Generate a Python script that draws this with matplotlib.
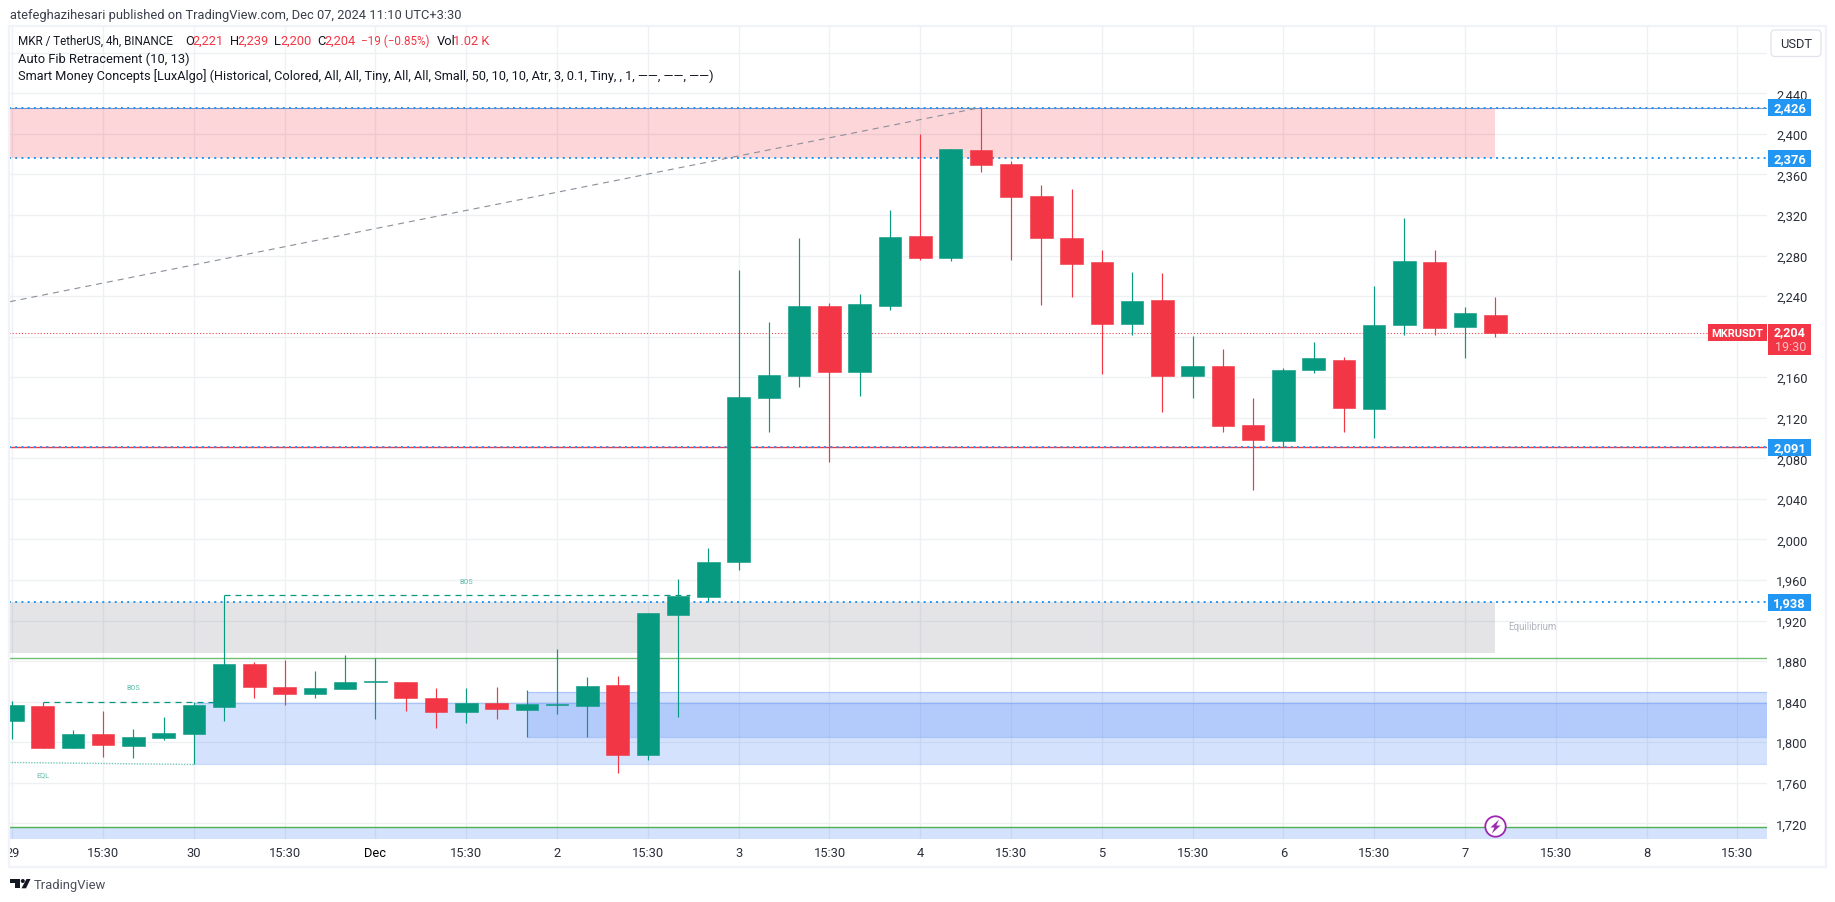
#!/usr/bin/env python3
"""MKR / TetherUS 4h candles with Smart Money Concepts zones, TradingView look."""

import matplotlib
matplotlib.use('Agg')
import matplotlib.pyplot as plt
from matplotlib.patches import Rectangle, FancyBboxPatch, Polygon, Circle
from matplotlib.transforms import Affine2D, Bbox, IdentityTransform, blended_transform_factory

# ── Data ───────────────────────────────────────────────────────────────────────
opens = [1821, 1836, 1794, 1808, 1796, 1804, 1808, 1835, 1877, 1854,
         1848, 1852, 1859, 1859, 1844, 1830, 1839, 1832, 1837, 1836,
         1856, 1787, 1925, 1943, 1978, 2139, 2161, 2230, 2165, 2230,
         2299, 2278, 2384, 2370, 2339, 2297, 2274, 2212, 2236, 2161,
         2171, 2113, 2097, 2167, 2177, 2129, 2211, 2274, 2210, 2221]
highs = [1841, 1840, 1812, 1831, 1813, 1825, 1840, 1945, 1879, 1881,
         1870, 1886, 1883, 1859, 1853, 1853, 1854, 1851, 1892, 1864,
         1865, 1927, 1961, 1992, 2266, 2214, 2297, 2233, 2242, 2325,
         2400, 2385, 2426, 2373, 2350, 2346, 2285, 2264, 2263, 2201,
         2188, 2139, 2169, 2195, 2180, 2250, 2317, 2285, 2229, 2239]
lows = [1803, 1794, 1794, 1785, 1784, 1802, 1778, 1821, 1844, 1837,
        1844, 1852, 1823, 1831, 1814, 1819, 1823, 1805, 1828, 1805,
        1770, 1782, 1825, 1938, 1970, 2106, 2150, 2076, 2141, 2226,
        2276, 2275, 2362, 2276, 2231, 2239, 2163, 2202, 2126, 2139,
        2106, 2049, 2091, 2164, 2106, 2100, 2202, 2202, 2179, 2200]
closes = [1837, 1794, 1808, 1797, 1805, 1809, 1837, 1877, 1854, 1848,
          1853, 1859, 1860, 1844, 1830, 1839, 1833, 1838, 1838, 1855,
          1787, 1927, 1944, 1978, 2140, 2162, 2230, 2165, 2232, 2298,
          2278, 2385, 2369, 2338, 2297, 2272, 2212, 2235, 2161, 2171,
          2112, 2098, 2167, 2179, 2130, 2211, 2275, 2209, 2223, 2204]

x_ticks = list(range(0, 58, 3))
x_labels = ['29', '15:30', '30', '15:30', 'Dec', '15:30', '2', '15:30', '3', '15:30',
            '4', '15:30', '5', '15:30', '6', '15:30', '7', '15:30', '8', '15:30']
y_grid = [1720, 1760, 1800, 1840, 1880, 1920, 1960, 2000, 2040, 2080, 2120,
          2160, 2200, 2240, 2280, 2320, 2360, 2400, 2440, 2480]
# 2,200 sits behind the last-price tag, 2,480 behind the USDT button
y_labelled = [v for v in y_grid if v not in (2200, 2480)]

fib_levels = [2426, 2376, 1938, 2091]
last_price = 2204
green_levels = [1883.5, 1716]
zone_red = (2376, 2426)
zone_gray = (1888, 1938)
zone_blue_low = (1778, 1838.5)
zone_blue_high = (1805, 1849.5)
zone_blue_floor = (1704.5, 1716)
bos_low = 1840
bos_high = 1945
eql_prices = (1780, 1778)
fib_line_x = (-1, 32)
fib_line_y = (2229, 2426)

# ── Look ───────────────────────────────────────────────────────────────────────
W, H = 1835, 903
UP = '#089981'
DOWN = '#f23645'
BLUE = '#2196f3'
ZONE_BLUE = '#2f72f5'
TEXT = '#131722'
FONT = 'Roboto'
FS = 9.3
X0, DX = 12.3, 30.265   # pixel of first bar, pixels per bar
L, R, T, B = 9, 1767, 27, 840

plt.rcParams['font.family'] = [FONT, 'DejaVu Sans']

fig = plt.figure(figsize=(W / 100, H / 100), dpi=100, facecolor='white')
ax = fig.add_axes([L / W, 1 - B / H, (R - L) / W, (B - T) / H])
ax.set_xlim((L - X0) / DX, (R - X0) / DX)
ax.set_ylim(1704.5, 2506.4)
xl, xr = ax.get_xlim()
px = Affine2D().scale(1, -1).translate(0, H)


def ftext(x, y, s, **kw):
    kw.setdefault('fontsize', FS)
    kw.setdefault('color', TEXT)
    kw.setdefault('va', 'center')
    return fig.text(x / W, 1 - y / H, s, **kw)


# ── Grid and axes ──────────────────────────────────────────────────────────────
for s in ax.spines.values():
    s.set_visible(False)
ax.set_axisbelow(True)
ax.set_xticks(x_ticks)
ax.set_xticklabels(x_labels, fontsize=FS, color='#2a2e39')
ax.set_yticks(y_grid)
ax.set_yticklabels([f'{v:,}' if v in y_labelled else '' for v in y_grid],
                   fontsize=FS, color='#2a2e39')
ax.yaxis.tick_right()
ax.tick_params(length=0)
ax.tick_params(axis='x', pad=5)
ax.tick_params(axis='y', pad=6.5)
ax.grid(True, color='#eef0f3', lw=1.0)
for lab in ax.get_xticklabels():
    if lab.get_text() == 'Dec':
        lab.set_color('#000000')
    if lab.get_text() == '29':
        lab.set_clip_box(Bbox([[L, 0], [W, H]]))
        lab.set_clip_on(True)

# ── Zones ──────────────────────────────────────────────────────────────────────
ax.axhspan(*zone_red, xmin=0, xmax=(49 - xl) / (xr - xl), color=DOWN, alpha=0.2, lw=0, zorder=1)
ax.axhspan(*zone_gray, xmin=0, xmax=(49 - xl) / (xr - xl), color='#787b86', alpha=0.2, lw=0, zorder=1)
for (lo, hi), start in ((zone_blue_low, 6), (zone_blue_high, 17), (zone_blue_floor, xl)):
    ax.add_patch(Rectangle((start, lo), xr - start, hi - lo, facecolor=ZONE_BLUE, alpha=0.2,
                           edgecolor='none', zorder=1))
    ax.hlines([lo, hi] if start != xl else [], start, xr, color=ZONE_BLUE, alpha=0.25, lw=0.9, zorder=1.1)

# ── Levels ─────────────────────────────────────────────────────────────────────
ax.axhline(2426, color='#5b7fc0', lw=0.8, alpha=0.8, zorder=1.2)
ax.axhline(2091, color=DOWN, lw=1.0, zorder=1.2)
for lev in green_levels:
    ax.axhline(lev, color='#4caf50', lw=1.0, alpha=0.8 if lev > 1800 else 1, zorder=1.2)
for lev in fib_levels:
    ax.axhline(lev, color=BLUE, lw=1.4, linestyle=(0, (1, 2.2)), zorder=1.3)
ax.axhline(last_price, color=DOWN, lw=0.75, linestyle=(0, (1, 2)), zorder=1.2)
ax.plot(fib_line_x, fib_line_y, color='#8c8f99', lw=0.8, linestyle=(0, (5.4, 4.5)), zorder=1.4)

# ── Structure labels ───────────────────────────────────────────────────────────
ax.hlines(bos_low, 1, 7, color=UP, lw=0.9, linestyle=(0, (4.8, 4)), zorder=1.5)
ax.hlines(bos_high, 7, 22.4, color=UP, lw=0.9, linestyle=(0, (4.8, 4)), zorder=1.5)
ax.plot([xl, 6], eql_prices, color=UP, alpha=0.55, lw=1.0, linestyle=(0, (1, 1)), zorder=1.5)
ftext(133.6, 689, 'BOS', fontsize=5.2, color='#5dbba9', ha='center')
ftext(466.4, 583, 'BOS', fontsize=5.2, color='#5dbba9', ha='center')
ftext(42.7, 776, 'EQL', fontsize=5.2, color='#5dbba9', ha='center')
ftext(1532, 627, 'Equilibrium', fontsize=7, color='#b2b5be', ha='center')

# ── Candles ────────────────────────────────────────────────────────────────────
idx = list(range(len(opens)))
cols = [UP if c >= o else DOWN for o, c in zip(opens, closes)]
ax.vlines(idx, lows, highs, colors=cols, lw=0.85, zorder=3)
ax.bar(idx, [abs(c - o) for o, c in zip(opens, closes)], bottom=[min(o, c) for o, c in zip(opens, closes)],
       width=0.745, color=cols, edgecolor=cols, lw=0.4, zorder=3.1)

# ── Price tags ─────────────────────────────────────────────────────────────────
tag = blended_transform_factory(IdentityTransform(), ax.transData)


def price_tag(x0, x1, top, bottom, color):
    ax.add_patch(Rectangle((x0, bottom), x1 - x0, top - bottom, transform=tag, facecolor=color,
                           edgecolor='none', clip_on=False, zorder=5))


for lev in fib_levels:
    price_tag(1768, 1811, lev + 8.4, lev - 8.4, BLUE)
    ax.text(1806, lev, f'{lev:,}', transform=tag, color='white', fontsize=FS, fontweight='bold',
            ha='right', va='center', clip_on=False, zorder=6)
price_tag(1768, 1811, last_price + 8, last_price - 22.2, DOWN)
price_tag(1708, 1766.7, last_price + 8, last_price - 8.3, DOWN)
ax.text(1806, last_price + 0.8, f'{last_price:,}', transform=tag, color='white', fontsize=FS - 0.3, fontweight='bold',
        ha='right', va='center', clip_on=False, zorder=6)
ax.text(1806, last_price - 13.6, '19:30', transform=tag, color='#fbc2c7', fontsize=FS - 0.3,
        ha='right', va='center', clip_on=False, zorder=6)
ax.text(1737.5, last_price, 'MKRUSDT', transform=tag, color='white', fontsize=7.9, fontweight='bold',
        ha='center', va='center', clip_on=False, zorder=6)

# ── Frame, header, button ──────────────────────────────────────────────────────
fig.add_artist(Rectangle((8.5, 26.5), 1817, 841, transform=px, fill=False, edgecolor='#f0f3fa', lw=1.6))
fig.add_artist(FancyBboxPatch((1773, 33), 46, 22.5, boxstyle='round,pad=2,rounding_size=4', transform=px,
                              facecolor='white', edgecolor='#e0e3eb', lw=0.9))
ftext(1796, 44, 'USDT', ha='center', color='#2a2e39')
ftext(10, 15, 'atefeghazihesari published on TradingView.com, Dec 07, 2024 11:10 UTC+3:30', color='#3a3e4a')

ftext(18, 41.7, 'MKR / TetherUS, 4h, BINANCE', fontsize=8.4)
for x, s, c, fs in ((185, 'O', TEXT, FS), (192.4, '2,221', DOWN, FS), (229.8, 'H', TEXT, FS), (237, '2,239', DOWN, FS),
                    (273.9, 'L', TEXT, FS), (280, '2,200', DOWN, FS), (317, 'C', TEXT, FS), (324, '2,204', DOWN, FS),
                    (361, '\u221219 (\u22120.85%)', DOWN, 8.4), (437, 'Vol', TEXT, FS), (453, '1.02 K', DOWN, FS)):
    ftext(x, 41.7, s, color=c, fontsize=fs)
ftext(18, 59, 'Auto Fib Retracement (10, 13)')
ftext(18, 76, 'Smart Money Concepts [LuxAlgo] (Historical, Colored, All, All, Tiny, All, All, Small, '
              '50, 10, 10, Atr, 3, 0.1, Tiny, , 1, \u2014\u2014, \u2014\u2014, \u2014\u2014)', fontsize=9.2)

# ── Alert badge ────────────────────────────────────────────────────────────────
fig.add_artist(Circle((1495.5, 827.5), 10.2, transform=px, facecolor='white', edgecolor='#9c27b0', lw=1.3))
fig.add_artist(Polygon([(1499, 820.5), (1490.5, 828.5), (1494.5, 828.5), (1491.8, 834.5),
                        (1500.5, 826.5), (1496.3, 826.5)], transform=px, facecolor='#9c27b0', edgecolor='none'))

# ── Logo ───────────────────────────────────────────────────────────────────────
LOGO = '#131722'
fig.add_artist(Polygon([(10, 880), (20, 880), (20, 889.3), (15, 889.3), (15, 884), (10, 884)],
                       transform=px, facecolor=LOGO, edgecolor='none'))
fig.add_artist(Circle((22.8, 882), 2.0, transform=px, facecolor=LOGO, edgecolor='none'))
fig.add_artist(Polygon([(26.5, 880), (30.5, 880), (26, 889.3), (21.5, 889.3)],
                       transform=px, facecolor=LOGO, edgecolor='none'))
ftext(33.7, 886, 'TradingView', fontsize=9.4, color='#4a4e5a')

plt.savefig('out.png', dpi=100, facecolor='white')
plt.close()
